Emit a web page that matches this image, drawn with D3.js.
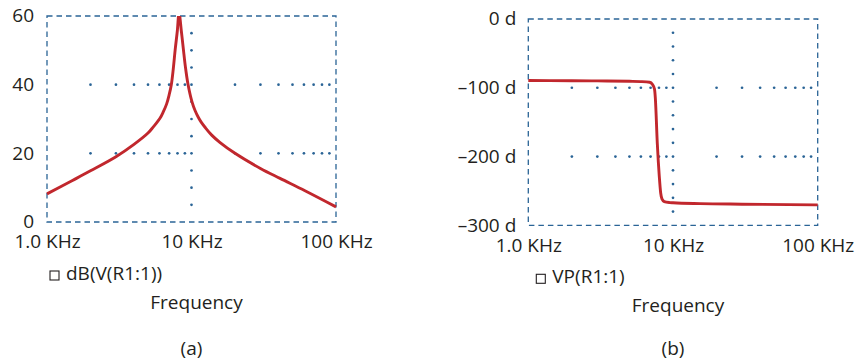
<!DOCTYPE html>
<html>
<head>
<meta charset="utf-8">
<script src="https://cdn.jsdelivr.net/npm/d3@7"></script>
<style>
  html, body { margin: 0; padding: 0; background: #ffffff; }
  svg { display: block; }
  text { font-family: "Open Sans", sans-serif; fill: #231f20; }
</style>
</head>
<body>
<svg id="chart" width="857" height="361"></svg>
<script>
// ---- data (frequency in kHz) ----
const freqTicks = [1, 10, 100];
const freqTickLabels = ["1.0 KHz", "10 KHz", "100 KHz"];
const minorFreqs = [2, 3, 4, 5, 6, 7, 8, 9, 20, 30, 40, 50, 60, 70, 80, 90];

const magFreq = [1.0, 1.5, 2.0, 3.0, 4.0, 5.0, 5.44, 6.05, 6.4, 6.73, 7.0, 7.25, 7.48, 7.72, 7.98, 8.2, 8.5, 8.78, 9.06, 9.45, 10.08, 10.6, 11.14, 11.7, 12.4, 13.8, 15.7, 20, 30, 41, 61, 100];
const magDb   = [8.2, 12.1, 14.9, 19.0, 22.6, 25.9, 27.7, 30.2, 32.2, 34.4, 37.0, 40.0, 44.6, 50.4, 55.7, 61, 55.7, 50.4, 45.4, 40.2, 35.0, 32.4, 30.5, 29.0, 27.6, 25.3, 23.2, 20.0, 15.6, 12.7, 9.1, 4.4];
const magTicks = [0, 20, 40, 60];
const magTickLabels = ["0", "20", "40", "60"];
const magGridH = [20, 40];
const magGridV = [5, 10, 15, 20, 25, 30, 35, 40, 45, 50, 55];
const magLegend = "dB(V(R1:1))";

const phFreq = [1.0, 2.0, 3.0, 5.0, 6.0, 6.9, 7.2, 7.45, 7.55, 7.79, 8.04, 8.22, 8.4, 8.7, 9.5, 10, 15.4, 30, 100];
const phDeg  = [-89.5, -89.8, -90.0, -90.6, -91.0, -92.0, -95, -102, -115, -181, -229, -253, -262, -265.5, -267, -267.3, -268.5, -269.3, -270.3];
const phTicks = [0, -100, -200, -300];
const phTickLabels = ["0 d", "\u2013100 d", "\u2013200 d", "\u2013300 d"];
const phGridH = [-100, -200];
const phGridV = [-20, -40, -60, -80, -100, -120, -140, -160, -180, -200, -220, -240, -260, -280];
const phLegend = "VP(R1:1)";

const xTitle = "Frequency";
const captions = ["(a)", "(b)"];

// ---- styles ----
const gridColor = "#2a6496";
const lineColor = "#c1272d";
const fontSize = 19;

const svg = d3.select("#chart");

function panel(cfg) {
  const g = svg.append("g");
  const x = d3.scaleLog().domain([1, 100]).range([cfg.left, cfg.right]);
  const y = d3.scaleLinear().domain(cfg.yDomain).range([cfg.bottom, cfg.top]);

  // minor dotted horizontals
  cfg.gridH.forEach(v => {
    g.selectAll(null).data(minorFreqs).enter().append("circle")
      .attr("cx", d => x(d)).attr("cy", y(v)).attr("r", 1.35)
      .attr("fill", gridColor);
  });
  // dotted vertical at 10 kHz
  g.selectAll(null).data(cfg.gridV).enter().append("circle")
    .attr("cx", x(10)).attr("cy", d => y(d)).attr("r", 1.35)
    .attr("fill", gridColor);

  // dashed frame
  g.append("rect")
    .attr("x", cfg.left).attr("y", cfg.top)
    .attr("width", cfg.right - cfg.left).attr("height", cfg.bottom - cfg.top)
    .attr("fill", "none").attr("stroke", gridColor)
    .attr("stroke-width", 1.3).attr("stroke-dasharray", "5.5,4");

  // curve
  const clipId = "clip" + cfg.id;
  svg.append("clipPath").attr("id", clipId).append("rect")
    .attr("x", cfg.left - 2).attr("y", cfg.top)
    .attr("width", cfg.right - cfg.left + 4).attr("height", cfg.bottom - cfg.top);
  const pts = cfg.xs.map((f, i) => [f, cfg.ys[i]]);
  g.append("path")
    .datum(pts)
    .attr("clip-path", `url(#${clipId})`)
    .attr("fill", "none").attr("stroke", lineColor)
    .attr("stroke-width", 2.9).attr("stroke-linejoin", "round")
    .attr("d", d3.line().x(d => x(d[0])).y(d => y(d[1])).curve(cfg.curve));

  // axes
  const yAxis = g.append("g").attr("transform", `translate(${cfg.left},0)`)
    .call(d3.axisLeft(y).tickValues(cfg.yTicks).tickSize(0).tickPadding(cfg.yPad)
      .tickFormat((d, i) => cfg.yTickLabels[i]));
  yAxis.select(".domain").remove();
  yAxis.selectAll("text").style("font-size", fontSize + "px").attr("fill", "#231f20")
    .attr("dy", "0.3em");

  const xAxis = g.append("g").attr("transform", `translate(0,${cfg.bottom})`)
    .call(d3.axisBottom(x).tickValues(freqTicks).tickSize(0).tickPadding(13)
      .tickFormat((d, i) => freqTickLabels[i]));
  xAxis.select(".domain").remove();
  xAxis.selectAll("text").style("font-size", fontSize + "px").attr("fill", "#231f20");

  // legend
  g.append("rect")
    .attr("x", cfg.left + cfg.legDx).attr("y", cfg.bottom + 49)
    .attr("width", 9).attr("height", 9)
    .attr("fill", "none").attr("stroke", "#231f20").attr("stroke-width", 1.1);
  g.append("text")
    .attr("x", cfg.left + cfg.legDx + 16).attr("y", cfg.bottom + 58)
    .style("font-size", fontSize + "px").text(cfg.legend);

  // title and caption
  g.append("text")
    .attr("x", (cfg.left + cfg.right) / 2 + 5).attr("y", cfg.bottom + 87)
    .attr("text-anchor", "middle").style("font-size", fontSize + "px").text(xTitle);
  g.append("text")
    .attr("x", x(10)).attr("y", 355)
    .attr("text-anchor", "middle").style("font-size", fontSize + "px").text(cfg.caption);
}

panel({
  id: "a", left: 47, right: 336, top: 16, bottom: 222,
  yDomain: [0, 60], yTicks: magTicks, yTickLabels: magTickLabels, yPad: 13,
  gridH: magGridH, gridV: magGridV, xs: magFreq, ys: magDb,
  legend: magLegend, legDx: 3, caption: captions[0],
  curve: d3.curveCatmullRom.alpha(0.5)
});
panel({
  id: "b", left: 528.3, right: 817.7, top: 19, bottom: 225.3,
  yDomain: [-300, 0], yTicks: phTicks, yTickLabels: phTickLabels, yPad: 12,
  gridH: phGridH, gridV: phGridV, xs: phFreq, ys: phDeg,
  legend: phLegend, legDx: 8, caption: captions[1],
  curve: d3.curveMonotoneX
});
</script>
</body>
</html>
